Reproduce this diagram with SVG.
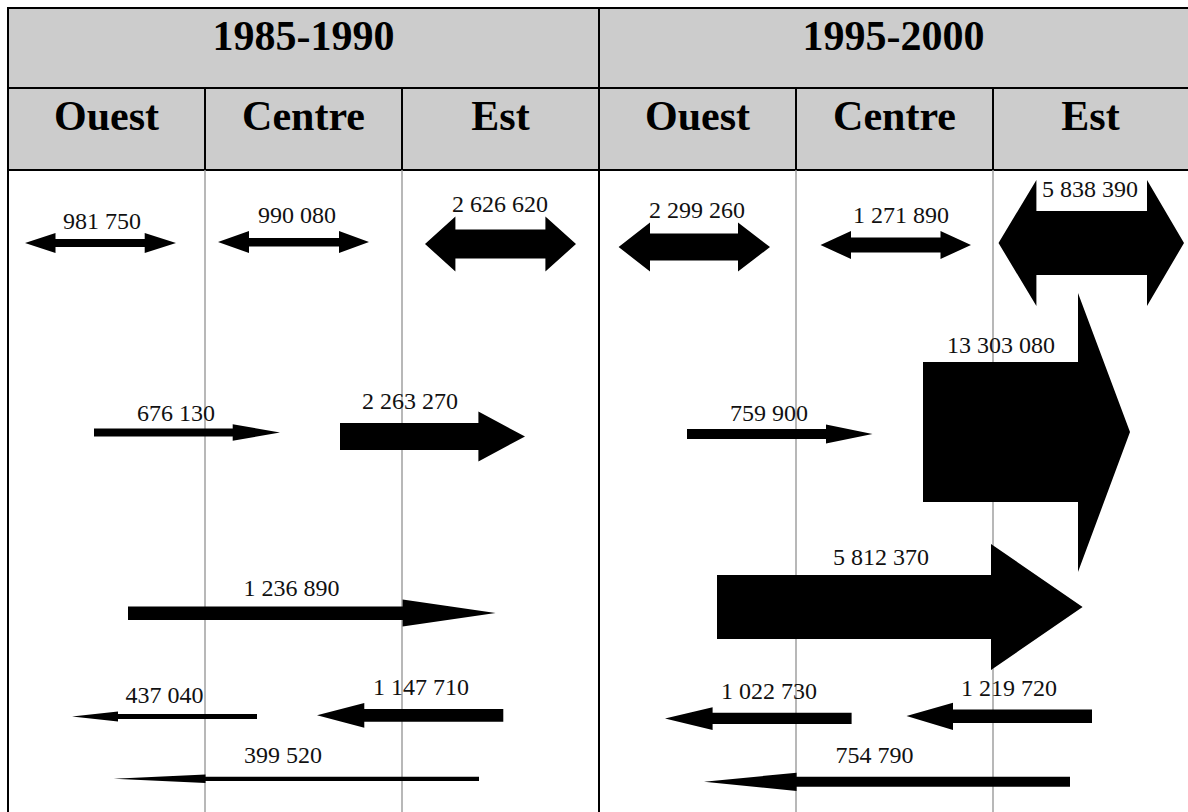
<svg xmlns="http://www.w3.org/2000/svg" width="1188" height="812" viewBox="0 0 1188 812">
  <style>
    .hdr { fill: #cccccc; }
    .grid { stroke: #000; stroke-width: 2; fill: none; }
    .col { stroke: #a0a0a0; stroke-width: 1.5; }
    .title { font-family: "Liberation Serif", "Times New Roman", serif; font-weight: bold; font-size: 42px; fill: #000; text-anchor: middle; }
    .arrow { fill: #000; }
    .lbl { font-family: "Liberation Serif", "Times New Roman", serif; font-size: 24px; fill: #111; text-anchor: middle; }
  </style>
  <rect width="1188" height="812" fill="#fff"/>

  <!-- header table -->
  <g id="header">
    <rect class="hdr" x="8" y="8" width="1190" height="162"/>
    <line class="grid" x1="8" y1="8" x2="1198" y2="8"/>
    <line class="grid" x1="8" y1="88" x2="1198" y2="88"/>
    <line class="grid" x1="8" y1="170" x2="1198" y2="170"/>
    <line class="grid" x1="205" y1="88" x2="205" y2="170"/>
    <line class="grid" x1="402" y1="88" x2="402" y2="170"/>
    <line class="grid" x1="796" y1="88" x2="796" y2="170"/>
    <line class="grid" x1="993" y1="88" x2="993" y2="170"/>
    <text class="title" x="303.5" y="50">1985-1990</text>
    <text class="title" x="893.5" y="50">1995-2000</text>
    <text class="title" x="106.5" y="130">Ouest</text>
    <text class="title" x="303.5" y="130">Centre</text>
    <text class="title" x="500.5" y="130">Est</text>
    <text class="title" x="697.5" y="130">Ouest</text>
    <text class="title" x="894.5" y="130">Centre</text>
    <text class="title" x="1090.5" y="130">Est</text>
  </g>

  <!-- column rules of the body -->
  <g id="connectors">
    <line class="col" x1="205" y1="170" x2="205" y2="812"/>
    <line class="col" x1="402" y1="170" x2="402" y2="812"/>
    <line class="col" x1="796" y1="170" x2="796" y2="812"/>
    <line class="col" x1="993" y1="170" x2="993" y2="812"/>
    <line class="grid" x1="8" y1="7" x2="8" y2="812"/>
    <line class="grid" x1="599" y1="7" x2="599" y2="812"/>
  </g>

  <!-- flows 1985-1990 -->
  <g id="f-ouest-85">
    <polygon class="arrow" points="25,243 55.5,233 55.5,239 144.7,239 144.7,233 176,243 144.7,253 144.7,247 55.5,247 55.5,253"/>
    <text class="lbl" x="102" y="229">981 750</text>
  </g>
  <g id="f-centre-85">
    <polygon class="arrow" points="218,242 249,231 249,238 339,238 339,231 369,242 339,253 339,246.5 249,246.5 249,253"/>
    <text class="lbl" x="297" y="223">990 080</text>
  </g>
  <g id="f-est-85">
    <polygon class="arrow" points="425,244 455.4,216.5 455.4,229.5 545.4,229.5 545.4,216.5 576,244 545.4,271.5 545.4,258.5 455.4,258.5 455.4,271.5"/>
    <text class="lbl" x="500" y="211.5">2 626 620</text>
  </g>
  <g id="f-ouest-centre-85">
    <polygon class="arrow" points="94,428.5 232.7,428.5 232.7,424.3 280,432.5 232.7,440.7 232.7,436.5 94,436.5"/>
    <text class="lbl" x="176" y="420.5">676 130</text>
  </g>
  <g id="f-centre-est-85">
    <polygon class="arrow" points="340,423 478.4,423 478.4,411.5 525,436.5 478.4,461.5 478.4,450 340,450"/>
    <text class="lbl" x="410" y="409">2 263 270</text>
  </g>
  <g id="f-ouest-est-85">
    <polygon class="arrow" points="128,606.5 402.6,606.5 402.6,599.5 495.6,613 402.6,626.5 402.6,620 128,620"/>
    <text class="lbl" x="291.5" y="596">1 236 890</text>
  </g>
  <g id="f-centre-ouest-85">
    <polygon class="arrow" points="72,716.5 118,711.5 118,714 257,714 257,719 118,719 118,721.5"/>
    <text class="lbl" x="164.5" y="703">437 040</text>
  </g>
  <g id="f-est-centre-85">
    <polygon class="arrow" points="317,715.3 364.3,703 364.3,709 503.3,709 503.3,721.7 364.3,721.7 364.3,727.7"/>
    <text class="lbl" x="421" y="695">1 147 710</text>
  </g>
  <g id="f-est-ouest-85">
    <polygon class="arrow" points="113.7,778.8 205.5,774.5 205.5,776.7 479,776.7 479,781 205.5,781 205.5,783"/>
    <text class="lbl" x="283" y="763">399 520</text>
  </g>

  <!-- flows 1995-2000 -->
  <g id="f-ouest-95">
    <polygon class="arrow" points="618.6,247 650,222.5 650,233.5 738,233.5 738,222.5 770,247 738,271.5 738,260.5 650,260.5 650,271.5"/>
    <text class="lbl" x="697" y="218">2 299 260</text>
  </g>
  <g id="f-centre-95">
    <polygon class="arrow" points="820.5,245 851,231 851,237.5 940.5,237.5 940.5,231 971,245 940.5,259 940.5,252.5 851,252.5 851,259"/>
    <text class="lbl" x="901" y="223">1 271 890</text>
  </g>
  <g id="f-est-95">
    <polygon class="arrow" points="998.5,243 1036.4,180 1036.4,211 1147,211 1147,180 1184,243 1147,306 1147,275 1036.4,275 1036.4,306"/>
    <text class="lbl" x="1090" y="196.5">5 838 390</text>
  </g>
  <g id="f-ouest-centre-95">
    <polygon class="arrow" points="687,429 826,429 826,424.5 872.5,434 826,443.5 826,439 687,439"/>
    <text class="lbl" x="769" y="420.5">759 900</text>
  </g>
  <g id="f-centre-est-95">
    <polygon class="arrow" points="923,362 1078,362 1078,293 1130,432 1078,572 1078,502 923,502"/>
    <text class="lbl" x="1001" y="352.5">13 303 080</text>
  </g>
  <g id="f-ouest-est-95">
    <polygon class="arrow" points="717,575 991,575 991,544 1082.6,607 991,670 991,639 717,639"/>
    <text class="lbl" x="881" y="565">5 812 370</text>
  </g>
  <g id="f-centre-ouest-95">
    <polygon class="arrow" points="665,718.5 712.6,707.3 712.6,712.7 851.6,712.7 851.6,724 712.6,724 712.6,730"/>
    <text class="lbl" x="769" y="699">1 022 730</text>
  </g>
  <g id="f-est-centre-95">
    <polygon class="arrow" points="906.5,716 953,702.7 953,709.5 1092,709.5 1092,723 953,723 953,730"/>
    <text class="lbl" x="1009" y="696">1 219 720</text>
  </g>
  <g id="f-est-ouest-95">
    <polygon class="arrow" points="704,781.8 796.6,772.7 796.6,776.7 1070,776.7 1070,786.8 796.6,786.8 796.6,791"/>
    <text class="lbl" x="874.5" y="763">754 790</text>
  </g>
</svg>
